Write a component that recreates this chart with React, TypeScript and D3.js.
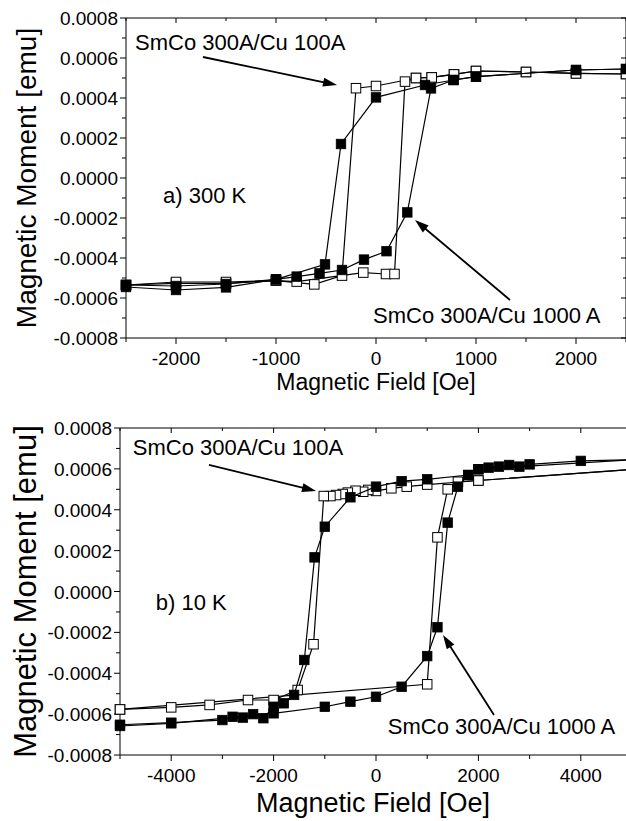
import React from "react";
import * as d3 from "d3";

// ---------- data (Magnetic Field [Oe], Magnetic Moment [emu]) ----------
// a) 300 K, SmCo 300A/Cu 100A (open squares)
const t300OpenDesc: [number, number][] = [
  [2500, 0.00052], [2000, 0.000523], [1500, 0.00053], [1000, 0.000535], [780, 0.000518],
  [557, 0.000503], [400, 0.0005], [0, 0.00046], [-200, 0.000449],
  [-340, -0.000488], [-617, -0.000532], [-1000, -0.000513], [-1500, -0.000527],
  [-2000, -0.000527], [-2500, -0.000535],
];
const t300OpenAsc: [number, number][] = [
  [-2500, -0.000535], [-2000, -0.00052], [-1500, -0.00052], [-1000, -0.000513],
  [-793, -0.000518], [-127, -0.000473], [100, -0.00048], [185, -0.00048],
  [290, 0.000482], [400, 0.0005], [557, 0.000503], [780, 0.000518], [1000, 0.000535],
  [1500, 0.00053], [2000, 0.000523], [2500, 0.00052],
];
// a) 300 K, SmCo 300A/Cu 1000 A (filled squares)
const t300FilledDesc: [number, number][] = [
  [2500, 0.000545], [2000, 0.00054], [1000, 0.000507], [775, 0.00049], [490, 0.000465],
  [0, 0.000403], [-350, 0.00017], [-510, -0.000432], [-1000, -0.000507],
  [-1500, -0.000547], [-2000, -0.00056], [-2500, -0.000545],
];
const t300FilledAsc: [number, number][] = [
  [-2500, -0.000535], [-2000, -0.00054], [-1500, -0.00053], [-1000, -0.000507],
  [-793, -0.000493], [-565, -0.000477], [-340, -0.00046], [-120, -0.000408],
  [105, -0.000366], [313, -0.000172], [550, 0.000448], [775, 0.00049], [1000, 0.000507],
  [2000, 0.00054], [2500, 0.000545],
];
// b) 10 K, SmCo 300A/Cu 100A (open squares)
const t10OpenDesc: [number, number][] = [
  [5000, 0.000597], [2000, 0.000543], [1000, 0.000523], [600, 0.000513], [300, 0.000505],
  [0, 0.000492], [-150, 0.000497], [-250, 0.000488], [-400, 0.000493], [-550, 0.000484],
  [-650, 0.000477], [-780, 0.000472], [-890, 0.000467], [-1020, 0.000467],
  [-1220, -0.000258], [-1530, -0.000482], [-2000, -0.000531], [-2500, -0.000531],
  [-3250, -0.000555], [-4000, -0.000567], [-5000, -0.000577],
];
const t10OpenAsc: [number, number][] = [
  [-5000, -0.000577], [1000, -0.000454], [1200, 0.000265], [1400, 0.0005],
  [1600, 0.000537], [2000, 0.000543], [5000, 0.000597],
];
// b) 10 K, SmCo 300A/Cu 1000 A (filled squares)
const t10FilledDesc: [number, number][] = [
  [5000, 0.000645], [4000, 0.000639], [3000, 0.000622], [2800, 0.000611], [2600, 0.000619],
  [2400, 0.000611], [2200, 0.000606], [2000, 0.000598], [1800, 0.00057], [1000, 0.000549],
  [500, 0.00054], [0, 0.000513], [-500, 0.000461], [-1000, 0.000317], [-1200, 0.000167],
  [-1400, -0.000335], [-1600, -0.000506], [-1800, -0.000547], [-2000, -0.000564],
  [-2200, -0.00062], [-2400, -0.0006], [-2600, -0.000617], [-2800, -0.000613],
  [-3000, -0.000629], [-4000, -0.000642], [-5000, -0.000652],
];
const t10FilledAsc: [number, number][] = [
  [-5000, -0.000658], [-4000, -0.000645], [-2000, -0.000596], [-1000, -0.000564],
  [-500, -0.000539], [0, -0.000515], [500, -0.000466], [1000, -0.000316],
  [1200, -0.000175], [1400, 0.000337], [1600, 0.000513], [1800, 0.00057],
  [2000, 0.000598], [5000, 0.000645],
];

// ---------- ticks ----------
const yTicks = [-0.0008, -0.0006, -0.0004, -0.0002, 0, 0.0002, 0.0004, 0.0006, 0.0008];
const yTickLabels = ["-0.0008", "-0.0006", "-0.0004", "-0.0002", "0.0000", "0.0002", "0.0004", "0.0006", "0.0008"];
const topXTicks = [-2000, -1000, 0, 1000, 2000];
const topXTickLabels = ["-2000", "-1000", "0", "1000", "2000"];
const botXTicks = [-4000, -2000, 0, 2000, 4000];
const botXTickLabels = ["-4000", "-2000", "0", "2000", "4000"];

// ---------- annotations (data coordinates) ----------
const labelThin = "SmCo 300A/Cu 100A";
const labelThick = "SmCo 300A/Cu 1000 A";
const topTitle = "a) 300 K";
const botTitle = "b) 10 K";
const xTitle = "Magnetic Field [Oe]";
const yTitle = "Magnetic Moment [emu]";

const FONT = "'Liberation Sans', Arial, Helvetica, sans-serif";

type Pt = [number, number];
type Ann = { text: string; at: Pt };
type Arrow = { from: Pt; to: Pt };

interface PanelProps {
  x0: number; x1: number; y0: number; y1: number;
  xDomain: [number, number];
  xTicks: number[]; xTickLabels: string[]; xMinorStep: number;
  openSeries: Pt[][]; filledSeries: Pt[][];
  texts: Ann[]; arrows: Arrow[];
  xTitleSize: number; yTitleSize: number;
  xTitleY: number; yTitleX: number;
}

function Panel(p: PanelProps) {
  const xs = d3.scaleLinear().domain(p.xDomain).range([p.x0, p.x1]);
  const ys = d3.scaleLinear().domain([-0.0008, 0.0008]).range([p.y1, p.y0]);
  const line = d3.line<Pt>().x((d) => xs(d[0])).y((d) => ys(d[1]));
  const minorX = d3.range(p.xDomain[0], p.xDomain[1] + 1, p.xMinorStep);
  const minorY = d3.range(-8, 9).map((k) => k * 0.0001);
  const clipR = Math.min(p.x1, 626);
  const ms = 9.5;

  const arrowEls = p.arrows.map((a, i) => {
    const fx = xs(a.from[0]), fy = ys(a.from[1]);
    const tx = xs(a.to[0]), ty = ys(a.to[1]);
    const ang = Math.atan2(ty - fy, tx - fx);
    const L = 14, Wd = 4.5;
    const bx = tx - L * Math.cos(ang), by = ty - L * Math.sin(ang);
    const px = -Math.sin(ang) * Wd, py = Math.cos(ang) * Wd;
    return (
      <g key={"ar" + i}>
        <line x1={fx} y1={fy} x2={bx + 2 * Math.cos(ang)} y2={by + 2 * Math.sin(ang)} stroke="#000" strokeWidth={1.8} />
        <polygon points={`${tx},${ty} ${bx + px},${by + py} ${bx - px},${by - py}`} fill="#000" />
      </g>
    );
  });

  return (
    <g>
      {/* frame */}
      <line x1={p.x0} x2={clipR} y1={p.y0} y2={p.y0} stroke="#000" strokeWidth={1} />
      <line x1={p.x0} x2={clipR} y1={p.y1} y2={p.y1} stroke="#000" strokeWidth={1} />
      <line x1={p.x0} x2={p.x0} y1={p.y0} y2={p.y1} stroke="#000" strokeWidth={1} />
      {p.x1 <= 626 && <line x1={p.x1} x2={p.x1} y1={p.y0} y2={p.y1} stroke="#000" strokeWidth={1} />}
      {/* x ticks */}
      {minorX.map((v, i) => {
        const major = p.xTicks.includes(v);
        const x = xs(v);
        return (
          <g key={"xt" + i}>
            <line x1={x} x2={x} y1={p.y1} y2={p.y1 + (major ? 6 : 4)} stroke="#000" />
            <line x1={x} x2={x} y1={p.y0} y2={p.y0 + (major ? 5 : 3)} stroke="#000" />
          </g>
        );
      })}
      {/* y ticks */}
      {minorY.map((v, i) => {
        const major = i % 2 === 0;
        const y = ys(v);
        return (
          <g key={"yt" + i}>
            <line x1={p.x0 - (major ? 6 : 4)} x2={p.x0} y1={y} y2={y} stroke="#000" />
            {p.x1 <= 626 && <line x1={p.x1 - (major ? 5 : 3)} x2={p.x1} y1={y} y2={y} stroke="#000" />}
          </g>
        );
      })}
      {p.xTicks.map((v, i) => (
        <text key={"xl" + i} x={xs(v)} y={p.y1 + 27} textAnchor="middle" fontSize={19} fontFamily={FONT}>
          {p.xTickLabels[i]}
        </text>
      ))}
      {yTicks.map((v, i) => (
        <text key={"yl" + i} x={p.x0 - 8} y={ys(v) + 7} textAnchor="end" fontSize={19} fontFamily={FONT}>
          {yTickLabels[i]}
        </text>
      ))}
      <text x={(p.x0 + Math.min(p.x1, 626)) / 2 + (p.x1 > 626 ? 0 : 0)} y={p.xTitleY} textAnchor="middle" fontSize={p.xTitleSize} fontFamily={FONT}>
        {xTitle}
      </text>
      <text transform={`translate(${p.yTitleX},${(p.y0 + p.y1) / 2}) rotate(-90)`} textAnchor="middle" fontSize={p.yTitleSize} fontFamily={FONT}>
        {yTitle}
      </text>
      {/* open series */}
      {p.openSeries.map((s, i) => (
        <path key={"ol" + i} d={line(s) || ""} fill="none" stroke="#000" strokeWidth={1.2} />
      ))}
      {p.openSeries.flat().map((d, i) => (
        <rect key={"om" + i} x={xs(d[0]) - ms / 2} y={ys(d[1]) - ms / 2} width={ms} height={ms} fill="#fff" stroke="#000" strokeWidth={1} />
      ))}
      {/* filled series */}
      {p.filledSeries.map((s, i) => (
        <path key={"fl" + i} d={line(s) || ""} fill="none" stroke="#000" strokeWidth={1.2} />
      ))}
      {p.filledSeries.flat().map((d, i) => (
        <rect key={"fm" + i} x={xs(d[0]) - ms / 2} y={ys(d[1]) - ms / 2} width={ms} height={ms} fill="#000" stroke="#000" strokeWidth={0.8} />
      ))}
      {p.texts.map((t, i) => (
        <text key={"tx" + i} x={xs(t.at[0])} y={ys(t.at[1])} fontSize={22} fontFamily={FONT}>
          {t.text}
        </text>
      ))}
      {arrowEls}
    </g>
  );
}

export default function App() {
  return (
    <svg width={626} height={821} style={{ position: "absolute", left: 0, top: 0, background: "#fff" }}>
      <rect x={0} y={0} width={626} height={821} fill="#fff" />
      <Panel
        x0={126} x1={626} y0={18} y1={338}
        xDomain={[-2500, 2500]}
        xTicks={topXTicks} xTickLabels={topXTickLabels} xMinorStep={500}
        openSeries={[t300OpenDesc, t300OpenAsc]}
        filledSeries={[t300FilledDesc, t300FilledAsc]}
        texts={[
          { text: labelThin, at: [-2410, 0.00064] },
          { text: topTitle, at: [-2130, -0.000125] },
          { text: labelThick, at: [-30, -0.000725] },
        ]}
        arrows={[
          { from: [-1730, 0.000605], to: [-390, 0.000465] },
          { from: [1340, -0.00061], to: [390, -0.00021] },
        ]}
        xTitleSize={23} yTitleSize={28} xTitleY={390} yTitleX={36}
      />
      <Panel
        x0={120} x1={632} y0={428} y1={755}
        xDomain={[-5000, 5000]}
        xTicks={botXTicks} xTickLabels={botXTickLabels} xMinorStep={1000}
        openSeries={[t10OpenDesc, t10OpenAsc]}
        filledSeries={[t10FilledDesc, t10FilledAsc]}
        texts={[
          { text: labelThin, at: [-4750, 0.000668] },
          { text: botTitle, at: [-4300, -0.00009] },
          { text: labelThick, at: [230, -0.000697] },
        ]}
        arrows={[
          { from: [-3262, 0.000619], to: [-1172, 0.000492] },
          { from: [2305, -0.000604], to: [1309, -0.000213] },
        ]}
        xTitleSize={27} yTitleSize={31} xTitleY={812} yTitleX={36}
      />
    </svg>
  );
}
